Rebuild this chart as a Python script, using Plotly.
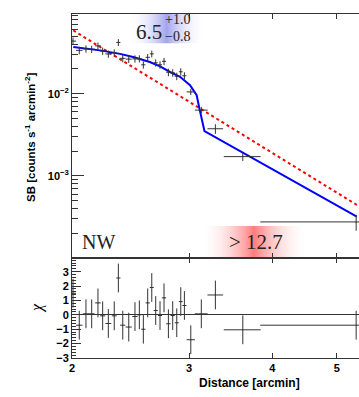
import numpy as np
import plotly.graph_objects as go

# --- data ---
radius = [2.007, 2.051, 2.099, 2.141, 2.188, 2.224, 2.268, 2.315, 2.348, 2.384,
          2.434, 2.487, 2.525, 2.560, 2.599, 2.636, 2.672, 2.712, 2.750, 2.792,
          2.834, 2.874, 2.914, 2.951, 3.017, 3.129, 3.285, 3.612, 5.347]
radius_err = [0.022, 0.023, 0.0225, 0.022, 0.021, 0.020, 0.023, 0.020, 0.017, 0.0215,
              0.026, 0.023, 0.018, 0.0185, 0.019, 0.018, 0.019, 0.0195, 0.020, 0.021,
              0.021, 0.020, 0.019, 0.021, 0.043, 0.069, 0.089, 0.23, 1.51]
sb = [0.0437, 0.03367, 0.03511, 0.03481, 0.03818, 0.03302, 0.03046, 0.03141, 0.04209, 0.02694,
      0.02635, 0.02656, 0.02664, 0.02246, 0.02770, 0.03054, 0.02375, 0.02246, 0.02477, 0.01822,
      0.01797, 0.0163, 0.01848, 0.01653, 0.01051, 0.00631, 0.003743, 0.001714, 0.000275]
sb_err = [0.0045, 0.0035, 0.0036, 0.0035, 0.0038, 0.0034, 0.0031, 0.0032, 0.0040, 0.0028,
          0.0027, 0.0027, 0.0027, 0.0023, 0.0027, 0.0029, 0.0024, 0.0023, 0.0025, 0.0019,
          0.0019, 0.0017, 0.0019, 0.0017, 0.0009, 0.0006, 0.0005, 0.0002, 0.00006]
chi = [1.5, -0.72, 0.07, 0.07, 0.83, -0.07, -0.6, -0.07, 2.56, -0.72,
       -0.85, -0.12, 0.0, -1.0, 0.83, 1.9, 0.3, -0.05, 1.18, -0.62,
       -0.05, -0.55, 0.92, 0.65, -1.73, 0.07, 1.38, -1.04, -0.72]
chi_err = [1.0] * len(chi)

# broken power-law model (blue)
model_r = [2.009, 2.203, 2.362, 2.471, 2.618, 2.712, 2.808, 2.907, 3.009, 3.079,
           3.108, 3.134, 3.163, 5.359]
model_sb = [0.03692, 0.03367, 0.03054, 0.02793, 0.02429, 0.02154, 0.01837, 0.01607, 0.01268, 0.00959,
            0.00662, 0.005004, 0.003511, 0.000318]

# single power-law (red dotted)
pl_r = [2.009, 5.403]
pl_sb = [0.05886, 0.000425]

W, H = 359, 397
ML, MR, MT, MB = 72, 0, 14, 39
split = (H - MB - 258) / (H - MT - MB)

sans = "Liberation Sans"
serif = "Liberation Serif"
ink = "#333333"


def paper(px, py):
    return (px - ML) / (W - ML - MR), (H - MB - py) / (H - MT - MB)


fig = go.Figure()

# gradient boxes behind the labels
fig.add_trace(go.Scatter(
    x=[2.43, 3.17, 3.17, 2.43, 2.43], y=[0.041, 0.041, 0.12, 0.12, 0.041],
    mode="lines", fill="toself", line=dict(width=0),
    fillgradient=dict(type="horizontal", colorscale=[
        [0, "rgba(255,255,255,0)"], [0.5, "rgba(140,140,235,0.8)"], [1, "rgba(255,255,255,0)"]]),
    hoverinfo="skip", xaxis="x", yaxis="y"))
fig.add_trace(go.Scatter(
    x=[3.11, 4.53, 4.53, 3.11, 3.11], y=[0.00009, 0.00009, 0.000245, 0.000245, 0.00009],
    mode="lines", fill="toself", line=dict(width=0),
    fillgradient=dict(type="horizontal", colorscale=[
        [0, "rgba(255,255,255,0)"], [0.5, "rgba(255,110,110,0.9)"], [1, "rgba(255,255,255,0)"]]),
    hoverinfo="skip", xaxis="x", yaxis="y"))

# power law
fig.add_trace(go.Scatter(x=pl_r, y=pl_sb, mode="lines",
                         line=dict(color="red", width=2, dash="dot"),
                         xaxis="x", yaxis="y"))
# model
fig.add_trace(go.Scatter(x=model_r, y=model_sb, mode="lines",
                         line=dict(color="#0000ff", width=2),
                         xaxis="x", yaxis="y"))
# data
fig.add_trace(go.Scatter(
    x=radius, y=sb, mode="markers", marker=dict(size=1, color=ink),
    error_x=dict(type="data", array=radius_err, color=ink, thickness=1, width=0),
    error_y=dict(type="data", array=sb_err, color=ink, thickness=1, width=0),
    xaxis="x", yaxis="y"))
# residuals
fig.add_trace(go.Scatter(
    x=radius, y=chi, mode="markers", marker=dict(size=1, color=ink),
    error_x=dict(type="data", array=radius_err, color=ink, thickness=1, width=0),
    error_y=dict(type="data", array=chi_err, color=ink, thickness=1, width=0),
    xaxis="x2", yaxis="y2"))

tickfont = dict(family=sans, size=11, color="black", weight="bold")
xr = [np.log10(2), np.log10(5.4)]
minor_sb = [m * 10.0 ** e for e in (-4, -3, -2) for m in range(2, 10)]

fig.update_layout(
    width=W, height=H, margin=dict(l=ML, r=MR, t=MT, b=MB, autoexpand=False),
    paper_bgcolor="white", plot_bgcolor="white", showlegend=False,
    xaxis=dict(domain=[0, 1], anchor="y", type="log", range=xr, automargin=False,
               tickvals=[2, 3, 4, 5], showticklabels=False, ticks="inside",
               ticklen=5, tickcolor=ink, showline=True, linecolor=ink, linewidth=1,
               mirror="ticks", showgrid=False, zeroline=False),
    yaxis=dict(domain=[split, 1], anchor="x", type="log", range=[-4, -1.03], automargin=False,
               tickvals=[1e-3, 1e-2],
               ticktext=["<b>10<sup>−3</sup></b>", "<b>10<sup>−2</sup></b>"],
               ticks="inside", ticklen=12, tickcolor=ink, tickfont=tickfont,
               minor=dict(tickvals=minor_sb, ticks="inside", ticklen=6, tickcolor=ink),
               showline=True, linecolor=ink, linewidth=1, showgrid=False, zeroline=False),
    xaxis2=dict(domain=[0, 1], anchor="y2", type="log", range=xr, matches="x", automargin=False,
                tickvals=[2, 3, 4, 5], ticktext=["2", "3", "4", "5"], tickfont=tickfont,
                ticks="inside", ticklen=5, tickcolor=ink, showline=True, linecolor=ink,
                linewidth=1, mirror="ticks", showgrid=False, zeroline=False),
    yaxis2=dict(domain=[0, split], anchor="x2", range=[-3, 3.95], automargin=False,
                tickvals=[-3, -2, -1, 0, 1, 2, 3],
                ticktext=["−3", "−2", "−1", "0", "1", "2", "3"], tickfont=tickfont,
                ticks="inside", ticklen=9, tickcolor=ink,
                minor=dict(dtick=0.2, tick0=0, ticks="inside", ticklen=4, tickcolor=ink),
                showline=True, linecolor=ink, linewidth=1, showgrid=False,
                zeroline=True, zerolinecolor=ink, zerolinewidth=1),
)

# axis titles
tx, ty = paper(30, 137)
fig.add_annotation(text="<b>SB [counts s<sup>-1</sup> arcmin<sup>-2</sup>]</b>", x=tx, y=ty,
                   xref="paper", yref="paper", textangle=-90, showarrow=False,
                   xanchor="center", yanchor="middle",
                   font=dict(family=sans, size=11.5, color="black"))
tx, ty = paper(37, 308)
fig.add_annotation(text="<i>χ</i>", x=tx, y=ty, xref="paper", yref="paper",
                   textangle=-90, showarrow=False, xanchor="center", yanchor="middle",
                   font=dict(family=serif, size=16, color="black"))
tx, ty = paper(249, 383)
fig.add_annotation(text="<b>Distance [arcmin]</b>", x=tx, y=ty, xref="paper", yref="paper",
                   showarrow=False, xanchor="center", yanchor="middle",
                   font=dict(family=sans, size=12, color="black"))

# labels inside the top panel
fig.add_annotation(text="NW", x=np.log10(2.056), y=np.log10(1.56e-4), xref="x", yref="y",
                   xanchor="left", yanchor="middle", showarrow=False,
                   font=dict(family=serif, size=20, color="#222"))
fig.add_annotation(text="6.5", x=np.log10(2.475), y=np.log10(0.0557), xref="x", yref="y",
                   xanchor="left", yanchor="middle", showarrow=False,
                   font=dict(family=serif, size=21, color="#222"))
fig.add_annotation(text="+1.0", x=np.log10(2.745), y=np.log10(0.0795), xref="x", yref="y",
                   xanchor="left", yanchor="middle", showarrow=False,
                   font=dict(family=serif, size=14, color="#222"))
fig.add_annotation(text="−0.8", x=np.log10(2.745), y=np.log10(0.0495), xref="x", yref="y",
                   xanchor="left", yanchor="middle", showarrow=False,
                   font=dict(family=serif, size=14, color="#222"))
fig.add_annotation(text="> 12.7", x=np.log10(3.775), y=np.log10(1.56e-4), xref="x", yref="y",
                   xanchor="center", yanchor="middle", showarrow=False,
                   font=dict(family=serif, size=21, color="#222"))

fig.write_html("out.html", config={"displayModeBar": False},
               post_script="document.body.style.margin='0';")
